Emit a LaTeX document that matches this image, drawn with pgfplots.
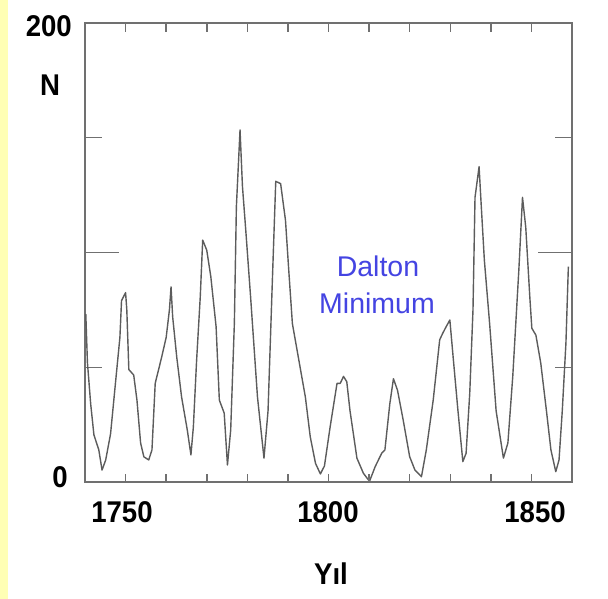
\documentclass[border=0pt]{standalone}
\usepackage{pgfplots}
\pgfplotsset{compat=1.18}
\usepackage{fontspec}
\setmainfont{Liberation Sans}
\definecolor{axgray}{RGB}{112,112,112}
\definecolor{linegray}{RGB}{92,92,92}
\definecolor{dblue}{RGB}{68,68,226}
\definecolor{strip}{RGB}{255,255,180}
\newcommand\lab[1]{\scalebox{0.92}[1]{\fontsize{30bp}{32bp}\selectfont\bfseries #1}}
\newcommand\blu[1]{{\fontsize{28.5bp}{30bp}\selectfont\color{dblue}#1}}
\begin{document}
\begin{tikzpicture}[x=1bp,y=1bp]
\path (0,0) rectangle (608,599);
\fill[strip] (0,0) rectangle (8,599);
\begin{axis}[at={(85bp,117bp)}, anchor=south west, scale only axis,
  width=487bp, height=459bp,
  xmin=1740, xmax=1860, ymin=0, ymax=200,
  axis line style={axgray, line width=1.6bp},
  tick style={axgray, line width=1.3bp},
  xtick=\empty,
  ytick={50,150}, yticklabels={},
  major tick length=17bp,
  extra y ticks={100}, extra y tick labels={},
  extra y tick style={major tick length=34bp, ytick style={/pgfplots/major tick length=34bp}},
  tick align=inside,
]
\addplot[linegray, line width=1.4bp, line join=round] coordinates {
(1740.0,70) (1740.2,73) (1740.6,52) (1741.4,34) (1742.2,20.5) (1743.4,14)
(1744.2,5.2) (1745.1,9.6) (1746.3,21) (1747.5,43) (1748.6,63) (1749.0,79)
(1750.0,82.5) (1750.3,75) (1750.8,49) (1752.0,46.6) (1752.8,35.7) (1753.7,17)
(1754.5,11) (1755.7,9.6) (1756.5,14) (1757.3,43) (1758.9,54.5) (1760.0,63)
(1760.8,75) (1761.2,85) (1761.6,72) (1762.6,54.5) (1763.8,37) (1765.2,22.7)
(1766.1,11.8) (1766.7,24) (1767.5,53) (1768.4,80.7) (1769.0,105.4) (1770.0,101)
(1771.0,89.5) (1772.3,67.7) (1773.1,35.7) (1774.3,30) (1775.1,7.4) (1775.9,22.7)
(1776.8,69) (1777.3,120) (1778.2,153.4) (1778.8,128.7) (1779.6,110) (1780.8,80.7)
(1782.5,37) (1784.1,10.4) (1785.1,31) (1786.2,89.5) (1787.0,131) (1788.2,130)
(1789.4,114) (1790.2,92.4) (1791.1,69) (1793.1,49) (1794.3,37) (1795.5,19.7)
(1796.8,8.1) (1798.0,3.5) (1799.0,7) (1800.4,24) (1802.1,43) (1802.9,43)
(1803.7,46) (1804.5,43.7) (1805.3,31) (1807.0,10.4) (1808.6,3.8) (1810.1,0.3)
(1811.5,6.7) (1813.1,12.5) (1813.9,14) (1815.1,34) (1816.0,45) (1817.0,40)
(1818.4,27) (1820.0,11) (1821.3,5.2) (1822.9,2.3) (1824.1,14) (1825.8,35.7)
(1827.4,62) (1828.2,65) (1829.0,67.7) (1829.9,70.6) (1830.7,54.6) (1831.9,31)
(1833.1,8.9) (1833.9,12.5) (1834.8,38.6) (1835.6,75) (1836.1,124) (1837.1,137.4)
(1837.6,121.5) (1838.4,96.7) (1839.7,69) (1841.3,31) (1843.1,10.4) (1844.2,17)
(1845.4,46) (1846.9,92.4) (1847.8,124) (1848.6,111) (1849.6,80.7) (1850.1,67)
(1851.1,64) (1852.3,51.8) (1853.7,31) (1854.8,14) (1856.0,4.5) (1856.8,9.6)
(1857.6,31) (1858.5,60.5) (1859.1,93.8)
};
\end{axis}
\foreach \k in {0,...,10} {
  \draw[axgray, line width=1.5bp] ({125.583+40.583*\k},117) -- ++(0,8);
  \draw[axgray, line width=1.5bp] ({125.583+40.583*\k},576) -- ++(0,-9);
}
\node[anchor=base east, inner sep=0pt] at (72,562.3) {\lab{200}};
\node[anchor=base, inner sep=0pt] at (50,503.3) {\lab{N}};
\node[anchor=base, inner sep=0pt] at (60,111.7) {\lab{0}};
\node[anchor=base, inner sep=0pt] at (122,76.3) {\lab{1750}};
\node[anchor=base, inner sep=0pt] at (328,76.3) {\lab{1800}};
\node[anchor=base, inner sep=0pt] at (535,76.3) {\lab{1850}};
\node[anchor=base, inner sep=0pt] at (331,14) {\lab{Yıl}};
\node[anchor=base, inner sep=0pt] at (378,322.3) {\blu{Dalton}};
\node[anchor=base, inner sep=0pt] at (377,285) {\blu{Minimum}};
\end{tikzpicture}
\end{document}
